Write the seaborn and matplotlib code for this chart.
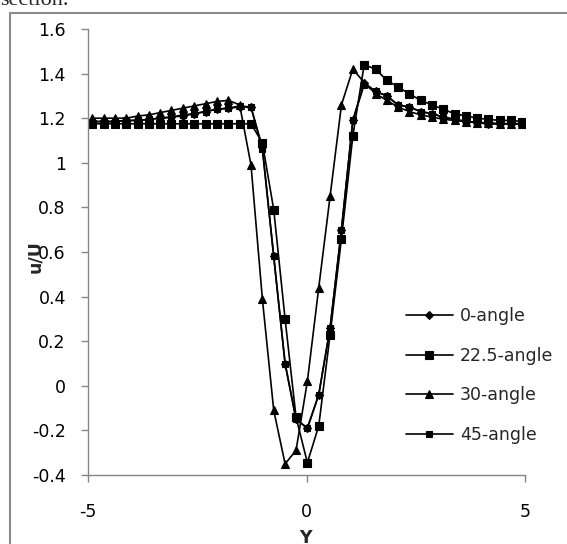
"""Velocity deficit profiles u/U across Y for four inflow angles."""

import matplotlib

matplotlib.use("Agg")
import matplotlib.pyplot as plt
from matplotlib.patches import Rectangle
import pandas as pd
import seaborn as sns


Y_POS = [-4.90, -4.64, -4.38, -4.12, -3.86, -3.60, -3.35, -3.09, -2.83, -2.57,
         -2.31, -2.05, -1.79, -1.53, -1.27, -1.01, -0.75, -0.49, -0.24, 0.02,
         0.28, 0.54, 0.80, 1.06, 1.32, 1.58, 1.84, 2.09, 2.35, 2.61,
         2.87, 3.13, 3.39, 3.65, 3.91, 4.16, 4.42, 4.68, 4.94]

ANGLE_0 = [1.185, 1.185, 1.185, 1.19, 1.19, 1.195, 1.20, 1.205, 1.21, 1.22,
           1.23, 1.24, 1.245, 1.25, 1.25, 1.07, 0.58, 0.10, -0.15, -0.19,
           -0.04, 0.26, 0.70, 1.19, 1.36, 1.32, 1.30, 1.26, 1.25, 1.23,
           1.22, 1.205, 1.195, 1.185, 1.18, 1.175, 1.175, 1.175, 1.175]

ANGLE_22_5 = [1.175, 1.175, 1.175, 1.175, 1.175, 1.175, 1.175, 1.175, 1.175, 1.175,
              1.175, 1.175, 1.175, 1.175, 1.175, 1.09, 0.79, 0.30, -0.14, -0.345,
              -0.18, 0.23, 0.66, 1.12, 1.44, 1.42, 1.37, 1.34, 1.31, 1.28,
              1.26, 1.24, 1.22, 1.21, 1.20, 1.195, 1.19, 1.19, 1.185]

ANGLE_30 = [1.20, 1.20, 1.20, 1.20, 1.21, 1.215, 1.225, 1.235, 1.245, 1.255,
            1.265, 1.275, 1.28, 1.26, 0.99, 0.39, -0.11, -0.35, -0.29, 0.02,
            0.44, 0.85, 1.26, 1.42, 1.36, 1.31, 1.28, 1.25, 1.23, 1.215,
            1.205, 1.195, 1.19, 1.185, 1.18, 1.18, 1.175, 1.175, 1.175]

ANGLE_45 = [1.185, 1.185, 1.185, 1.19, 1.19, 1.195, 1.20, 1.205, 1.215, 1.22,
            1.23, 1.24, 1.245, 1.255, 1.25, 1.06, 0.58, 0.10, -0.15, -0.19,
            -0.04, 0.26, 0.70, 1.19, 1.35, 1.32, 1.30, 1.26, 1.25, 1.23,
            1.22, 1.205, 1.195, 1.185, 1.18, 1.175, 1.175, 1.175, 1.175]

SERIES = ["0-angle", "22.5-angle", "30-angle", "45-angle"]
MARKERS = {"0-angle": "D", "22.5-angle": "s", "30-angle": "^", "45-angle": "s"}
MARKER_SIZES = {"0-angle": 4, "22.5-angle": 5.5, "30-angle": 5.5, "45-angle": 5}

Y_TICKS = [-0.4, -0.2, 0, 0.2, 0.4, 0.6, 0.8, 1, 1.2, 1.4, 1.6]
Y_TICK_LABELS = ["-0.4", "-0.2", "0", "0.2", "0.4", "0.6", "0.8", "1", "1.2", "1.4", "1.6"]
X_TICKS = [-5, 0, 5]
X_TICK_LABELS = ["-5", "0", "5"]

GRAY = "#868686"


def main():
    df = pd.DataFrame({
        "Y": Y_POS * 4,
        "u/U": ANGLE_0 + ANGLE_22_5 + ANGLE_30 + ANGLE_45,
        "series": sum([[name] * len(Y_POS) for name in SERIES], []),
    })

    sns.set_style("white")
    plt.rcParams["font.family"] = ["DejaVu Sans"]
    plt.rcParams["axes.unicode_minus"] = False

    fig = plt.figure(figsize=(5.67, 5.44), dpi=100)
    ax = fig.add_axes([88 / 567, 1 - 475 / 544, 437 / 567, 446 / 544])

    for name in SERIES:
        sub = df[df["series"] == name]
        sns.lineplot(data=sub, x="Y", y="u/U", ax=ax, color="black", label=name,
                     marker=MARKERS[name], markersize=MARKER_SIZES[name],
                     markeredgecolor="black", markerfacecolor="black",
                     markeredgewidth=0.8, linewidth=1.2, sort=False)

    ax.set_xlim(-5, 5)
    ax.set_ylim(-0.4, 1.6)
    ax.set_xticks(X_TICKS)
    ax.set_xticklabels(X_TICK_LABELS)
    ax.set_yticks(Y_TICKS)
    ax.set_yticklabels(Y_TICK_LABELS)
    ax.tick_params(axis="both", direction="out", length=5, width=1.0, color=GRAY,
                   labelsize=12.5, labelcolor="black")
    ax.tick_params(axis="y", pad=11, left=True)
    ax.tick_params(axis="x", pad=15, bottom=True)

    for side in ["top", "right"]:
        ax.spines[side].set_visible(False)
    for side in ["left", "bottom"]:
        ax.spines[side].set_color(GRAY)
        ax.spines[side].set_linewidth(1.0)

    ax.set_xlabel("Y", fontsize=12.5, fontweight="bold")
    ax.set_ylabel("u/U", fontsize=12.5, fontweight="bold")
    ax.xaxis.set_label_coords((305.7 - 88) / 437, -0.122)
    ax.yaxis.set_label_coords(-0.10, 0.49)

    ax.legend(loc="center left", bbox_to_anchor=((406 - 88) / 437, (475 - 375.5) / 446),
              frameon=False, fontsize=12.5, handlelength=2.7, handletextpad=0.4,
              labelspacing=1.25, borderpad=0, borderaxespad=0)

    # outer chart-area border (cut off at right and bottom in the source)
    fig.patches.append(Rectangle((10 / 567, -0.1), 1.2, 1.1 - 13 / 544,
                                 transform=fig.transFigure, fill=False,
                                 edgecolor="#8c8c8c", linewidth=1.5))
    fig.text(0.0, 1 - 5 / 544, "section.", fontfamily="Liberation Serif",
             fontsize=16, va="baseline", ha="left")

    fig.savefig("out.png", dpi=100)
    plt.close(fig)


if __name__ == "__main__":
    main()
